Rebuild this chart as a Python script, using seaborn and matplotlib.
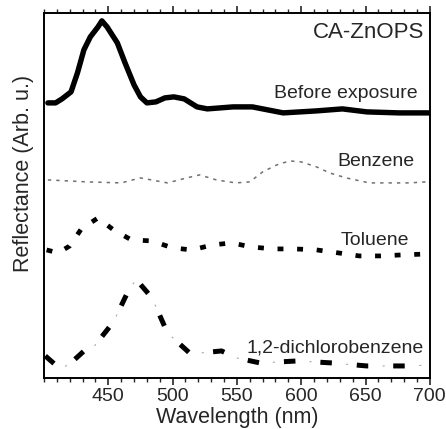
import numpy as np
import pandas as pd
import seaborn as sns
import matplotlib.pyplot as plt
from matplotlib.ticker import MultipleLocator

# Data (heights in arbitrary units, curves already offset)
wl_before = [403, 409, 414, 421, 426, 431, 436, 442, 445, 449, 457, 463, 470, 475, 480, 487, 494, 501,
             509, 519, 527, 547, 562, 586, 612, 632, 651, 676, 699]
r_before = [275, 275, 279, 286, 305, 328, 341, 351, 357, 351, 335, 315, 293, 281, 275, 276, 280, 281,
            279, 271, 269, 271, 271, 265, 267, 269, 266, 265, 265]

wl_benzene = [403, 434, 460, 475, 496, 511, 521, 534, 549, 560, 570, 581, 591, 600, 612, 622, 635, 653, 669, 684, 697]
r_benzene = [198, 196, 195, 200, 195, 200, 203, 198, 195, 196, 206, 213, 217, 216, 211, 205, 200, 195, 195, 195, 196]

wl_toluene = [402, 411, 420, 429, 442, 454, 468, 484, 500, 515, 531, 546, 561, 578, 595, 612, 629, 645, 661, 678, 699]
r_toluene = [128, 125, 132, 149, 160, 148, 138, 137, 130, 128, 133, 135, 131, 129, 129, 128, 125, 122, 122, 123, 124]

wl_dcb = [401, 409, 414, 420, 432, 438, 454, 467, 472, 484, 496, 514, 538, 550, 568, 597, 624, 651, 684, 699]
r_dcb = [22, 13, 10, 14, 28, 30, 56, 91, 98, 80, 45, 24, 27, 20, 15, 17, 15, 12, 12, 13]

labels = ["Before exposure", "Benzene", "Toluene", "1,2-dichlorobenzene"]

sns.set_style("ticks")
plt.rcParams['font.family'] = ['Liberation Sans', 'DejaVu Sans']

fig = plt.figure(figsize=(4.46, 4.29), dpi=100)
ax = fig.add_axes([0.0987, 0.119, 0.865, 0.851])

df_before = pd.DataFrame({'wl': wl_before, 'r': r_before})
df_benz = pd.DataFrame({'wl': wl_benzene, 'r': r_benzene})
df_tol = pd.DataFrame({'wl': wl_toluene, 'r': r_toluene})
df_dcb = pd.DataFrame({'wl': wl_dcb, 'r': r_dcb})

sns.lineplot(data=df_before, x='wl', y='r', ax=ax, color='black', lw=3.9,
             solid_joinstyle='round', solid_capstyle='round')
sns.lineplot(data=df_benz, x='wl', y='r', ax=ax, color='#707070', lw=1.1,
             linestyle=(0, (2.2, 3.3)))
sns.lineplot(data=df_tol, x='wl', y='r', ax=ax, color='black', lw=3.4,
             linestyle=(0, (1.25, 2.9)))
# thin grey marks in the gaps, then the thick dashes on top
sns.lineplot(data=df_dcb, x='wl', y='r', ax=ax, color='#9a9a9a', lw=0.7,
             linestyle=(12.8, (2.1, 35.6)))
sns.lineplot(data=df_dcb, x='wl', y='r', ax=ax, color='black', lw=3.6,
             linestyle=(0, (2.3, 5.0)))

ax.set_xlim(400, 700)
ax.set_ylim(0, 365)
ax.set_yticks([])
ax.xaxis.set_minor_locator(MultipleLocator(10))
ax.set_xticks([450, 500, 550, 600, 650, 700])
ax.tick_params(axis='x', which='both', direction='out', top=True, bottom=True,
               labelsize=14, pad=2)
ax.tick_params(axis='x', which='major', length=5, width=1.2)
ax.tick_params(axis='x', which='minor', length=3, width=1.0)
for s in ax.spines.values():
    s.set_visible(True)
    s.set_linewidth(1.4)
    s.set_color('black')

ax.set_xlabel("Wavelength (nm)", fontsize=15.5, labelpad=2)
ax.set_ylabel("Reflectance (Arb. u.)", fontsize=15.5)
ax.yaxis.set_label_coords(-0.025, 0.56)

ax.text(0.985, 0.945, "CA-ZnOPS", transform=ax.transAxes, ha='right', va='center', fontsize=16)
ax.text(690.5, 284, labels[0], ha='right', va='center', fontsize=14)
ax.text(688, 216, labels[1], ha='right', va='center', fontsize=14)
ax.text(684, 137, labels[2], ha='right', va='center', fontsize=14)
ax.text(695.5, 30, labels[3], ha='right', va='center', fontsize=14)

fig.savefig("out.png", dpi=100)
